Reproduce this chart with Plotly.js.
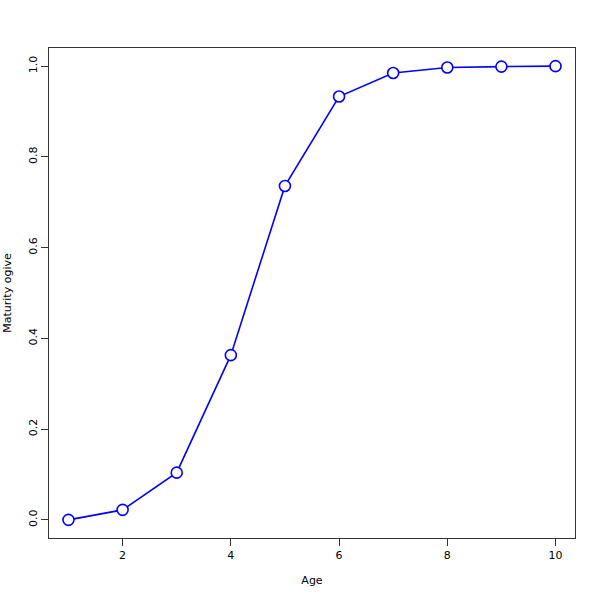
<!DOCTYPE html>
<html>
<head>
<meta charset="utf-8">
<script src="https://cdn.plot.ly/plotly-3.0.1.min.js"></script>
<style>html,body{margin:0;padding:0;background:#fff;}#chart{width:600px;height:600px;}</style>
</head>
<body>
<div id="chart"></div>
<script>
const ages = [1, 2, 3, 4, 5, 6, 7, 8, 9, 10];
const maturity = [0.0, 0.022, 0.104, 0.363, 0.736, 0.933, 0.985, 0.997, 0.999, 1.0];
const xTicks = [2, 4, 6, 8, 10];
const yTicks = [0.0, 0.2, 0.4, 0.6, 0.8, 1.0];
const yTickText = ["0.0", "0.2", "0.4", "0.6", "0.8", "1.0"];

const trace = {
  x: ages, y: maturity, type: 'scatter', mode: 'lines+markers',
  line: {color: '#0000ff', width: 1.6},
  marker: {symbol: 'circle', size: 11, color: '#ffffff', line: {color: '#0000ff', width: 1.6}},
  cliponaxis: false
};
const fontBase = {family: 'DejaVu Sans, sans-serif', size: 11, color: '#000'};
const layout = {
  width: 600, height: 600,
  margin: {l: 49, r: 25, t: 48, b: 62},
  paper_bgcolor: '#fff', plot_bgcolor: '#fff',
  showlegend: false,
  font: fontBase,
  xaxis: {
    range: [0.64, 10.36], tickvals: xTicks, ticktext: xTicks.map(String),
    ticks: 'outside', ticklen: 7, tickwidth: 1, tickcolor: '#333',
    showline: true, linecolor: '#333', linewidth: 1, mirror: true,
    showgrid: false, zeroline: false,
    tickfont: fontBase,
    title: {text: 'Age', font: fontBase, standoff: 15}
  },
  yaxis: {
    range: [-0.04, 1.04], tickvals: yTicks, ticktext: yTickText,
    ticks: 'outside', ticklen: 7, tickwidth: 1, tickcolor: '#333',
    tickangle: -90,
    showline: true, linecolor: '#333', linewidth: 1, mirror: true,
    showgrid: false, zeroline: false,
    tickfont: fontBase,
    title: {text: 'Maturity ogive', font: fontBase, standoff: 12}
  }
};
Plotly.newPlot('chart', [trace], layout, {staticPlot: true, displayModeBar: false});
</script>
</body>
</html>
